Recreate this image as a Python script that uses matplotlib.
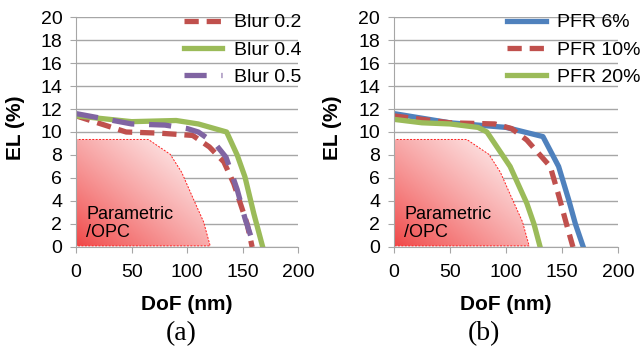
import numpy as np
import matplotlib.pyplot as plt
from matplotlib.patches import Polygon

plt.rcParams['font.family'] = ['Liberation Sans', 'DejaVu Sans']

# panel (a): blur
blur02_x = [0, 45, 75, 105, 120, 133, 142, 154, 158.5]
blur02_y = [11.4, 10.0, 9.9, 9.7, 8.7, 7.4, 5.5, 2.0, 0]
blur04_x = [0, 50, 90, 110, 135.5, 145, 152, 160, 168]
blur04_y = [11.4, 10.9, 11.0, 10.7, 10.0, 8.0, 6.1, 2.9, 0]
blur05_x = [0, 50, 80, 100, 110, 125, 135, 145, 152, 160.5]
blur05_y = [11.6, 10.7, 10.6, 10.3, 10.0, 9.0, 7.8, 5.0, 2.5, 0]

# panel (b): PFR
pfr6_x = [0, 50, 100, 133, 147, 156, 162, 169]
pfr6_y = [11.6, 10.8, 10.4, 9.6, 7.0, 4.1, 2.0, 0]
pfr10_x = [0, 50, 90, 105, 118.6, 139.5, 147, 154, 159.8]
pfr10_y = [11.4, 10.8, 10.7, 10.3, 9.3, 7.0, 4.5, 2.0, 0]
pfr20_x = [0, 25, 50, 75, 83, 103.7, 118.6, 125, 130.5]
pfr20_y = [11.1, 10.8, 10.7, 10.4, 10.0, 7.0, 3.8, 2.0, 0]

# parametric / OPC region
opc_x = [0, 0, 65, 84.7, 95, 105, 114.7, 120.7]
opc_y = [0.1, 9.35, 9.35, 8.06, 6.5, 4.3, 2.2, 0.1]

red = '#C0504D'
green = '#9BBB59'
purple = '#8064A2'
blue = '#4F81BD'
grey = '#A6A6A6'

fig = plt.figure(figsize=(6.4, 3.52), dpi=100)
ax1 = fig.add_axes([0.119, 0.2983, 0.347, 0.6534])
ax2 = fig.add_axes([0.6156, 0.2983, 0.35, 0.6534])


def draw_opc(ax):
    poly = Polygon(list(zip(opc_x, opc_y)), closed=True, facecolor='none',
                   edgecolor='#FF2020', lw=0.7, ls=(0, (2, 1.5)), zorder=2)
    ax.add_patch(poly)
    xx, yy = np.meshgrid(np.linspace(0, 121, 200), np.linspace(0, 9.5, 200))
    t = np.clip((xx / 121 + yy / 9.5) / 2.0, 0, 1) ** 0.85
    c0 = np.array([0.94, 0.26, 0.26])
    img = c0[None, None, :] * (1 - t[..., None]) + t[..., None]
    im = ax.imshow(img, extent=[0, 121, 0, 9.5], origin='lower',
                   aspect='auto', zorder=1.5)
    im.set_clip_path(poly)
    ax.text(9, 0.9, 'Parametric\n/OPC', fontsize=13, zorder=3,
            linespacing=1.05)


def style(ax):
    ax.set_xlim(0, 200)
    ax.set_ylim(0, 20)
    ax.set_xticks(range(0, 201, 50))
    ax.set_yticks(range(0, 21, 2))
    ax.yaxis.grid(True, color=grey, lw=1)
    ax.set_axisbelow(True)
    for s in ['top', 'right']:
        ax.spines[s].set_visible(False)
    for s in ['left', 'bottom']:
        ax.spines[s].set_color(grey)
    ax.tick_params(axis='x', length=4, color=grey, labelsize=14, pad=8)
    ax.tick_params(axis='y', length=4, color=grey, labelsize=14, pad=6)
    ax.set_xlabel('DoF (nm)', fontsize=15, fontweight='bold')
    ax.set_ylabel('EL (%)', fontsize=15, fontweight='bold')
    ax.xaxis.set_label_coords(0.5, -0.21)
    ax.yaxis.set_label_coords(-0.232, 0.52)


leg_kw = dict(loc='upper left', frameon=False, fontsize=14, handlelength=2.0,
              handletextpad=0.6, labelspacing=0.5)

draw_opc(ax1)
ax1.plot(blur02_x, blur02_y, color=red, lw=3.8, ls=(0, (2.7, 1.5)), label='Blur 0.2')
ax1.plot(blur04_x, blur04_y, color=green, lw=3.8, label='Blur 0.4')
ax1.plot(blur05_x, blur05_y, color=purple, lw=3.8, ls=(0, (4.2, 2.8)), label='Blur 0.5')
style(ax1)
ax1.legend(bbox_to_anchor=(0.405, 1.09), **leg_kw)

draw_opc(ax2)
ax2.plot(pfr6_x, pfr6_y, color=blue, lw=3.8, label='PFR 6%')
ax2.plot(pfr10_x, pfr10_y, color=red, lw=3.8, ls=(0, (2.7, 1.5)), label='PFR 10%')
ax2.plot(pfr20_x, pfr20_y, color=green, lw=3.8, label='PFR 20%')
style(ax2)
ax2.legend(bbox_to_anchor=(0.425, 1.09), **leg_kw)

fig.text(181 / 640, 0.035, '(a)', fontsize=20, family='Liberation Serif', ha='center')
fig.text(484 / 640, 0.035, '(b)', fontsize=20, family='Liberation Serif', ha='center')

fig.savefig('out.png', dpi=100)
